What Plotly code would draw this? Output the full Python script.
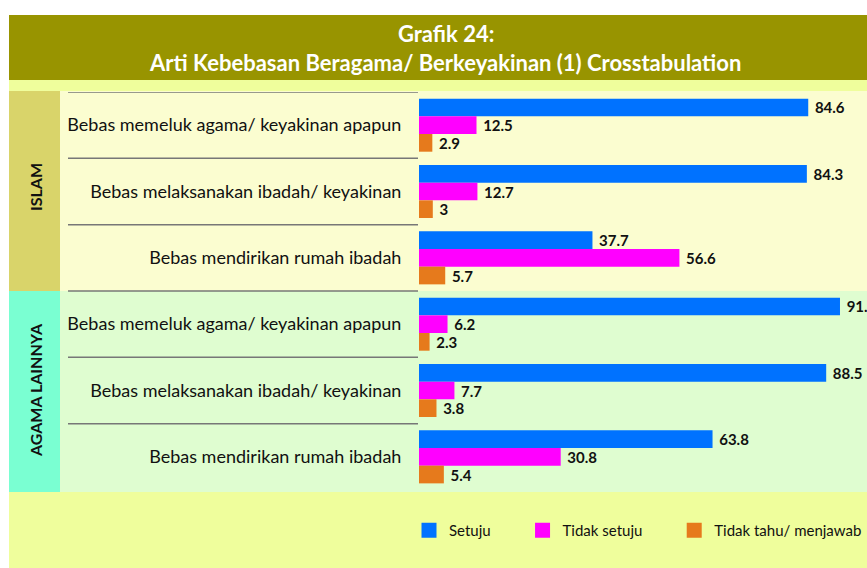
import plotly.graph_objects as go

# ---------------- data ----------------
categories = [
    "Bebas memeluk agama/ keyakinan apapun",
    "Bebas melaksanakan ibadah/ keyakinan",
    "Bebas mendirikan rumah ibadah",
    "Bebas memeluk agama/ keyakinan apapun",
    "Bebas melaksanakan ibadah/ keyakinan",
    "Bebas mendirikan rumah ibadah",
]
groups = ["ISLAM", "AGAMA LAINNYA"]
series_names = ["Setuju", "Tidak setuju", "Tidak tahu/ menjawab"]
setuju = [84.6, 84.3, 37.7, 91.5, 88.5, 63.8]
tidak_setuju = [12.5, 12.7, 56.6, 6.2, 7.7, 30.8]
tidak_tahu = [2.9, 3, 5.7, 2.3, 3.8, 5.4]
title_line1 = "Grafik 24:"
title_line2 = "Arti Kebebasan Beragama/ Berkeyakinan (1) Crosstabulation"

colors = ["#0072FF", "#FF00FF", "#E67A1C"]
legend_pad = [7, 7, 0]  # trailing spaces for legend spacing
FONT = "Lato"

W, H = 867, 568
L, R, T, B = 419, 0, 92, 78
PW, PH = W - L - R, H - T - B


def px(x):
    return (x - L) / PW


def py(y):
    return 1 - (y - T) / PH


ypos = list(range(len(categories)))
fig = go.Figure()
for name, vals, col, pad in zip(series_names, [setuju, tidak_setuju, tidak_tahu], colors, legend_pad):
    fig.add_trace(go.Bar(
        y=ypos, x=vals, orientation="h", name=name,
        marker=dict(color=col, line=dict(width=0)),
        text=["\u00a0" + f"{v:g}" for v in vals],
        textposition="outside", constraintext="none", cliponaxis=True,
        textfont=dict(family=FONT, size=15, color="#111111", weight="bold"),
        showlegend=False,
    ))
    fig.add_trace(go.Scatter(
        x=[None], y=[None], mode="markers", name=name + "\u00a0" * pad,
        marker=dict(symbol="square", size=15, color=col, line=dict(width=0)),
        showlegend=True,
    ))

shapes = []
shapes.append(dict(type="rect", xref="paper", yref="paper", x0=px(9), x1=px(867),
                   y0=py(15), y1=py(80), fillcolor="#989400", line=dict(width=0), layer="below"))
shapes.append(dict(type="rect", xref="paper", yref="paper", x0=px(9), x1=px(867),
                   y0=py(80), y1=py(91), fillcolor="#EFFE9C", line=dict(width=0), layer="below"))
shapes.append(dict(type="rect", xref="paper", yref="paper", x0=px(9), x1=px(867),
                   y0=py(492), y1=py(568), fillcolor="#EFFE9C", line=dict(width=0), layer="below"))
for (y0, y1, side, body) in [(91, 291, "#D9D46A", "#FBFDD0"), (291, 492, "#7AFFD2", "#DFFDD0")]:
    shapes.append(dict(type="rect", xref="paper", yref="paper", x0=px(9), x1=px(60),
                       y0=py(y0), y1=py(y1), fillcolor=side, line=dict(width=0), layer="below"))
    shapes.append(dict(type="rect", xref="paper", yref="paper", x0=px(60), x1=px(867),
                       y0=py(y0), y1=py(y1), fillcolor=body, line=dict(width=0), layer="below"))
for k in range(len(categories)):
    shapes.append(dict(type="line", xref="paper", yref="y", x0=px(68), x1=px(418),
                       y0=k - 0.5, y1=k - 0.5, line=dict(color="#777777", width=1.5), layer="below"))

annotations = [
    dict(text="<b>" + title_line1 + "</b>", xref="paper", yref="paper", x=px(446), y=py(34),
         showarrow=False, xanchor="center", yanchor="middle",
         font=dict(family=FONT, size=22, color="white")),
    dict(text="<b>" + title_line2 + "</b>", xref="paper", yref="paper", x=px(445), y=py(63),
         showarrow=False, xanchor="center", yanchor="middle",
         font=dict(family=FONT, size=22, color="white")),
    dict(text="<b>" + groups[0] + "</b>", xref="paper", yref="paper", x=px(35), y=py(187),
         showarrow=False, textangle=-90, xanchor="center", yanchor="middle",
         font=dict(family=FONT, size=16, color="#111111")),
    dict(text="<b>" + groups[1] + "</b>", xref="paper", yref="paper", x=px(35), y=py(390),
         showarrow=False, textangle=-90, xanchor="center", yanchor="middle",
         font=dict(family=FONT, size=16, color="#111111")),
]

fig.update_layout(
    width=W, height=H,
    margin=dict(l=L, r=R, t=T, b=B, pad=0),
    paper_bgcolor="white", plot_bgcolor="rgba(0,0,0,0)",
    barmode="group", bargap=0.2, bargroupgap=0,
    shapes=shapes, annotations=annotations,
    legend=dict(orientation="h", x=px(409), y=py(530.5), xanchor="left", yanchor="middle",
                bgcolor="rgba(0,0,0,0)", font=dict(family=FONT, size=15, color="#111111")),
    xaxis=dict(range=[0, PW / 4.601], showgrid=False, zeroline=False, showticklabels=False,
               showline=False, fixedrange=True),
    yaxis=dict(range=[len(categories) - 0.5, -0.5], tickvals=ypos, ticktext=categories,
               showgrid=False, zeroline=False, showline=False, ticks="outside", ticklen=13,
               tickcolor="rgba(0,0,0,0)",
               tickfont=dict(family=FONT, size=18, color="#111111")),
)

fig.write_html("out.html",
               config={"displayModeBar": False},
               post_script="document.body.style.margin='0';document.body.style.overflow='hidden';")
